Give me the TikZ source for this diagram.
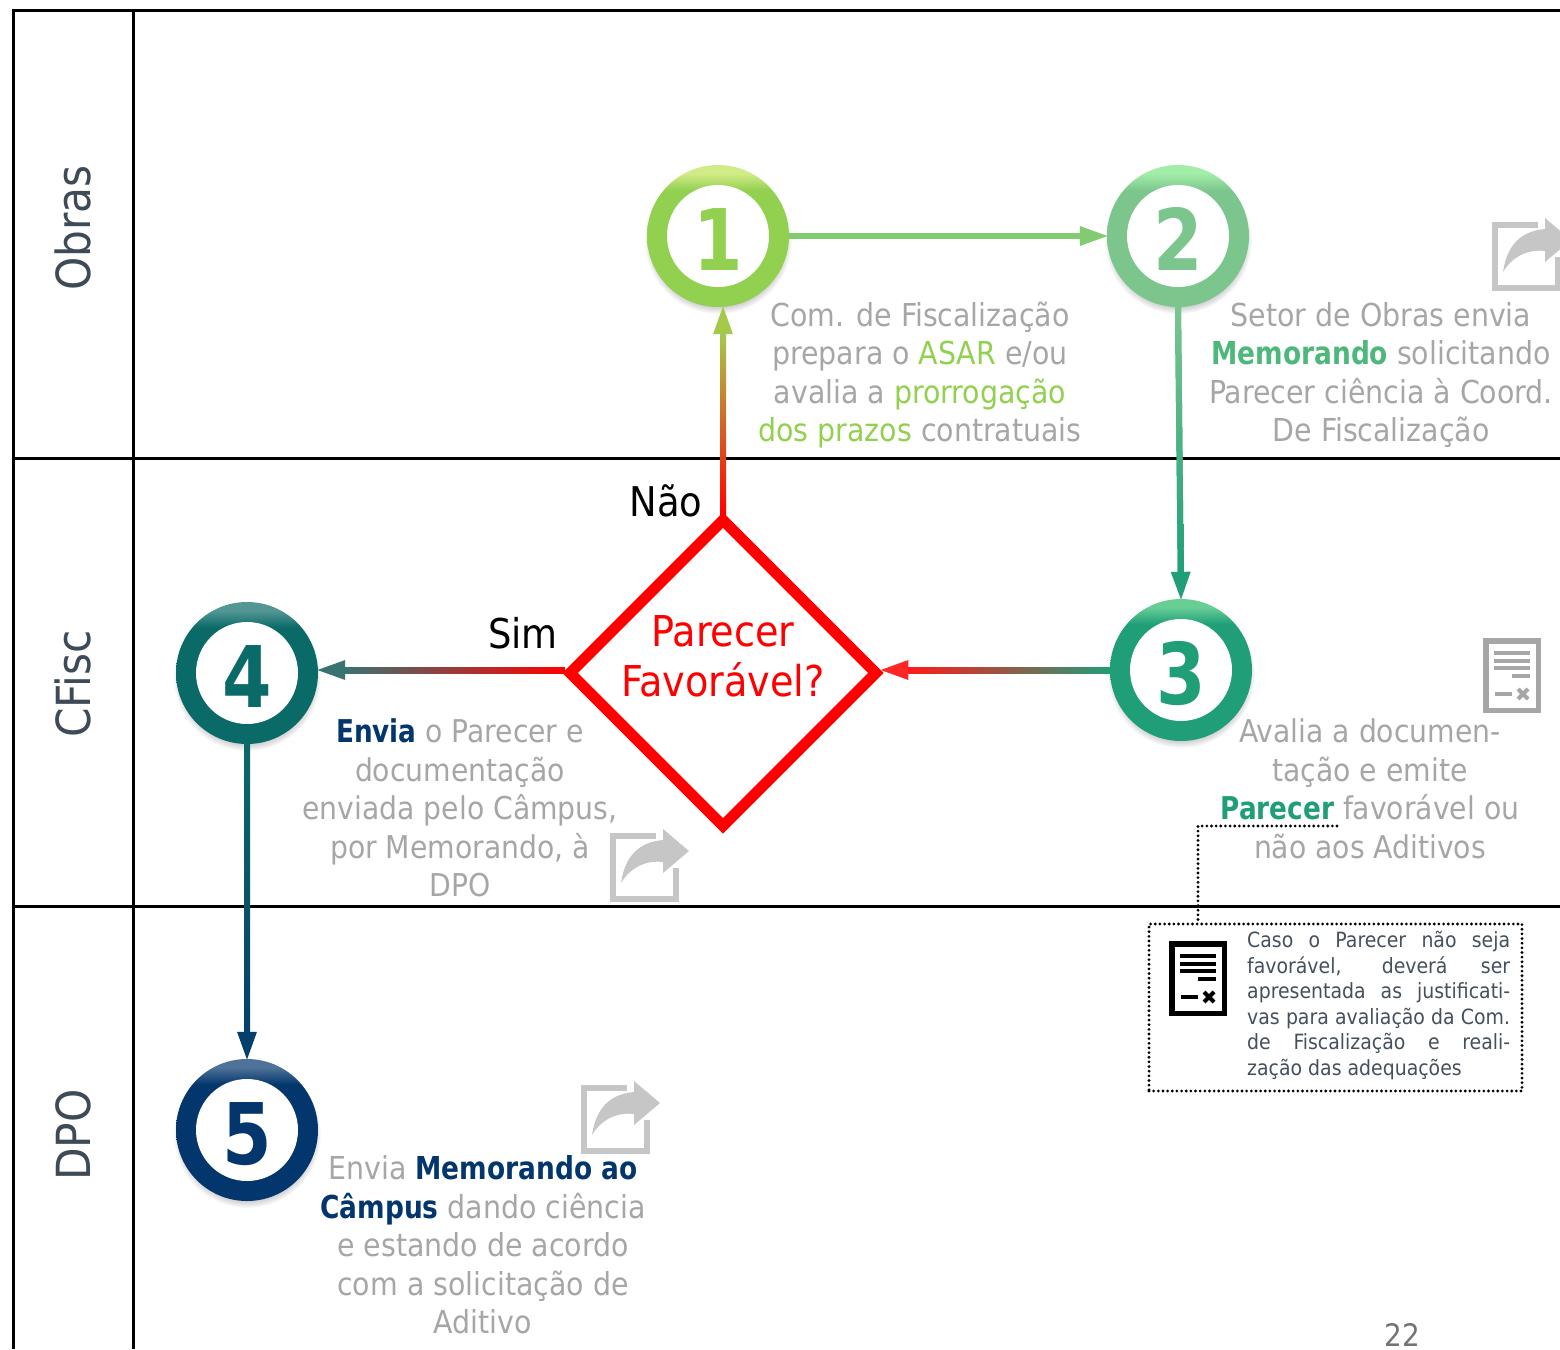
\documentclass[tikz,border=0pt]{standalone}
\usepackage{fontspec}
\usepackage{xcolor}
\usepackage{tikz}
\usetikzlibrary{arrows.meta,calc,shapes.geometric,shadows,fadings}
\setmainfont{DejaVu Sans Condensed}[BoldFeatures={FakeStretch=0.93}]

\definecolor{cgray}{HTML}{A6A6A6}
\definecolor{clane}{HTML}{3F4A57}
\definecolor{cnote}{HTML}{44505C}
\definecolor{cshare}{HTML}{C6C6C6}
\definecolor{cone}{HTML}{92D050}
\definecolor{ctwo}{HTML}{7CC68E}
\definecolor{cthree}{HTML}{1F9E78}
\definecolor{cfour}{HTML}{0A6A68}
\definecolor{cfive}{HTML}{03366C}
\definecolor{cmemo}{HTML}{4DB87A}
\definecolor{cline}{HTML}{82CB72}
\definecolor{cno}{HTML}{A5C94A}

% bright rim only on the top of each ball
\newcommand{\ballshade}[3]{
  \pgfdeclareverticalshading{#1}{100bp}{color(0bp)=(#2); color(66bp)=(#2);
    color(72bp)=(#2!55!#3); color(75bp)=(#3); color(100bp)=(#3)}
}
\ballshade{bone}{cone}{cone!70!yellow!60!white}
\ballshade{btwo}{ctwo}{ctwo!40!white!80!green}
\ballshade{bthree}{cthree}{cthree!60!white!85!green}
\ballshade{bfour}{cfour}{cfour!70!white}
\ballshade{bfive}{cfive}{cfive!70!white}

\tikzset{
  ball/.style 2 args={circle, minimum size=142pt, inner sep=0pt, text=#1, shading=#2,
    circular drop shadow={shadow xshift=0pt, shadow yshift=-4pt, shadow scale=1.04, opacity=.55},
    font=\fontsize{85}{85}\selectfont\bfseries, text height=68pt, text depth=0pt,
    path picture={\fill[white] (path picture bounding box.center) circle (51pt);}},
  lbl/.style={align=center, text=cgray, inner sep=0pt, font=\fontsize{#1}{38.5}\selectfont},
  lbl/.default=31.6,
  lane/.style={rotate=90, text=clane, inner sep=0pt, font=\fontsize{47}{47}\selectfont},
  side/.style={text=black, inner sep=0pt, font=\fontsize{41}{41}\selectfont},
  conn/.style={line width=6pt, shorten >=-2pt, -{Triangle[length=29pt,width=18pt]}},
  notedot/.style={line width=3.1pt, line cap=round, dash pattern=on 0pt off 4.65pt},
  pics/shareicon/.style={code={
    \draw[cshare, line width=6pt] (46,3) -- (3,3) -- (3,66) -- (66,66) -- (66,35);
    \fill[cshare] (79,18) -- (53,-4) -- (53,7) .. controls (30,9) and (15,22) .. (11,50)
      .. controls (20,35) and (35,27) .. (53,29) -- (53,40) -- cycle;
  }},
  pics/docicon/.style={code={
    \draw[#1, line width=5.5pt, fill=white] (2.75,2.75) rectangle (55.25,72.25);
    \draw[#1, line width=3.5pt] (11,15) -- (47,15) (11,23) -- (47,23) (11,30) -- (47,30)
      (29,38) -- (47,38) (12,56) -- (29,56);
    \draw[#1, line width=4pt] (35,51) -- (45,61) (35,61) -- (45,51);
  }}
}

% gradient stroke over a plain connector: from, to, last colour, shading
\newcommand{\gradconn}[4]{
  \draw[conn, draw=#3] (#1) -- (#2);
  \coordinate (gstop) at ($(#2)!27pt!(#1)$);
  \shade[#4] ($(#1)!3pt!90:(#2)$) -- ($(#1)!3pt!-90:(#2)$)
    -- ($(gstop)!3pt!90:(#1)$) -- ($(gstop)!3pt!-90:(#1)$) -- cycle;
}

\begin{document}
\begin{tikzpicture}[x=1pt,y=-1pt]
  \useasboundingbox (0,0) rectangle (1560,1349);

  % lanes
  \draw[line width=3pt] (1560,10) -- (13,10) -- (13,1349);
  \draw[line width=3pt] (133,10) -- (133,1349);
  \draw[line width=3pt] (13,458) -- (1560,458);
  \draw[line width=3pt] (13,906) -- (1560,906);
  \node[lane] (l1) at (73,228){Obras};
  \node[lane] (l2) at (73,684){CFisc};
  \node[lane] (l3) at (73,1135){DPO};

  \node[ball={cone}{bone}] (c1) at (718,236){1};
  \node[ball={ctwo}{btwo}] (c2) at (1178,236){2};
  \node[ball={cthree}{bthree}] (c3) at (1181,670){3};
  \node[ball={cfour}{bfour}] (c4) at (247,673){4};
  \node[ball={cfive}{bfive}] (c5) at (247,1130){5};

  \node[diamond, aspect=1, draw=red, line width=11pt, inner sep=0pt, minimum size=309pt, outer sep=3.9pt] (d) at (723,673){};
  \node[align=center, text=red, inner sep=0pt, font=\fontsize{42.5}{50}\selectfont] (dt) at (723,656){Parecer\\Favorável?};
  \coordinate (mid) at (723,670);

  % connectors
  \draw[conn, draw=cline] (c1) -- (c2);
  \gradconn{c2.south}{c3.north}{cthree}{top color=ctwo, bottom color=cthree}
  \gradconn{c3.west}{c3.west -| d.east}{red!85!white}{right color=cthree, left color=red!90!white}
  \gradconn{mid -| d.west}{mid -| c4.east}{cfour!60!gray}{right color=red, left color=cfour!60!gray}
  \gradconn{d.north}{d.north |- c1.south}{cno}{bottom color=red, middle color=orange!60!red, top color=cno}
  \gradconn{c4.south}{c5.north}{cfive!80!cfour}{top color=cfour, bottom color=cfive!80!cfour}

  \node[side] (no) at (666,501){Não};
  \node[side] (yes) at (523,633){Sim};

  % texts
  \node[lbl] (t1) at (920,375){Com. de Fiscalização\\prepara o \textcolor{cone}{ASAR} e/ou\\avalia a \textcolor{cone}{prorrogação}\\\textcolor{cone}{dos prazos} contratuais};
  \node[lbl] (t2) at (1381,375){Setor de Obras envia\\\textcolor{cmemo}{\bfseries Memorando} solicitando\\Parecer ciência à Coord.\\De Fiscalização};
  \node[lbl=31.4] (t3) at (1370,789){Avalia a documen-\\tação e emite\\\textcolor{cthree}{\bfseries Parecer} favorável ou\\não aos Aditivos};
  \node[lbl=31.4] (t4) at (460,808){\textcolor{cfive}{\bfseries Envia} o Parecer e\\documentação\\enviada pelo Câmpus,\\por Memorando, à\\DPO};
  \node[lbl] (t5) at (483,1245){Envia \textcolor{cfive}{\bfseries Memorando ao}\\\textcolor{cfive}{\bfseries Câmpus} dando ciência\\e estando de acordo\\com a solicitação de\\Aditivo};

  % icons
  \pic at (1492,222) {shareicon};
  \pic at (610,833) {shareicon};
  \pic at (581,1085) {shareicon};
  \pic at (1483,638) {docicon=cgray};

  % note
  \node[draw, notedot, rectangle, minimum width=373pt, minimum height=167pt, inner sep=0pt] (n) at (1335.5,1007.5){};
  \pic at (1169,941) {docicon=black};
  \node[anchor=north west, text width=263pt, align=justify, text=cnote, inner sep=0pt, font=\fontsize{21}{25.6}\selectfont] (nt) at (1247,931){\hbadness=10000 Caso o Parecer não seja\linebreak favorável, deverá ser\linebreak apresentada as justificati-\linebreak vas para avaliação da Com.\linebreak de Fiscalização e reali-\linebreak zação das adequações};
  \coordinate (na) at (1337,826);
  \coordinate (nb) at (1198,924);
  \draw[notedot] (na) -| (nb);

  \node[text=gray!90!black, inner sep=0pt, font=\fontsize{31}{31}\selectfont] (pg) at (1402,1335){22};
\end{tikzpicture}
\end{document}
